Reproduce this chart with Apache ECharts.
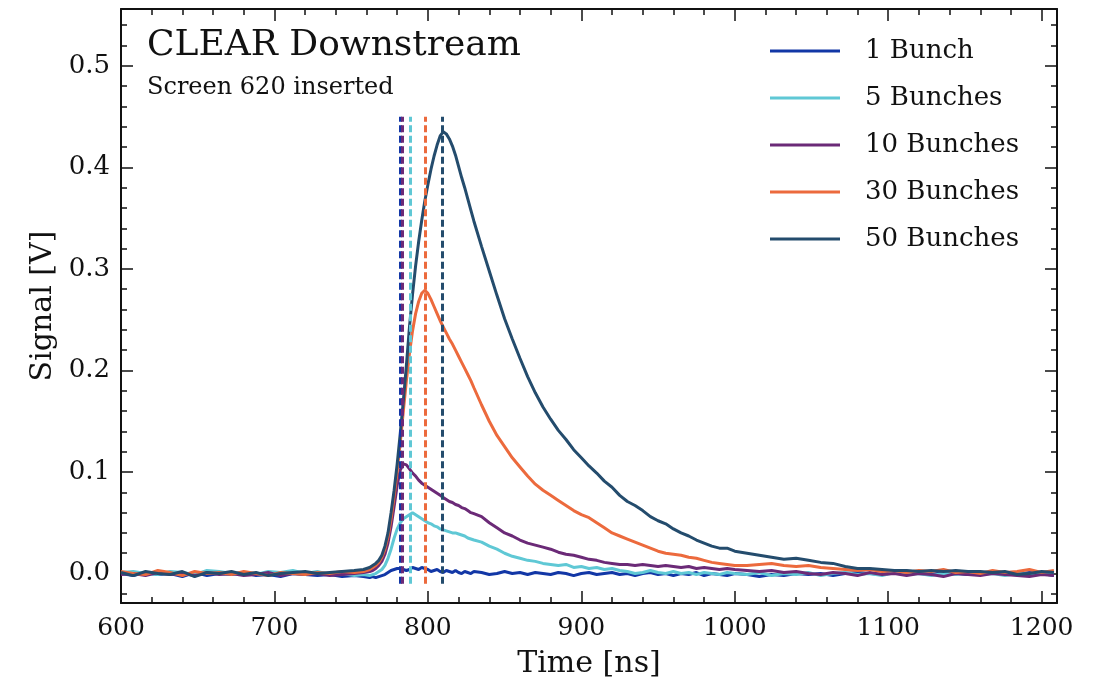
<!DOCTYPE html>
<html>
<head>
<meta charset="UTF-8">
<title>CLEAR Downstream</title>
<script src="https://cdn.jsdelivr.net/npm/echarts@6/dist/echarts.min.js"></script>
<style>html,body{margin:0;padding:0;background:#fff;} #main{width:1097px;height:690px;}</style>
</head>
<body>
<div id="main"></div>
<script>
// sample times [ns], shared by every trace
var time = [600,608,616,624,632,640,648,656,664,672,680,688,696,704,712,720,728,736,744,752,758,
    762,764,766,768,770,772,774,776,778,780,782,784,786,788,790,792,794,796,798,800,802,804,806,808,810,812,814,816,818,820,822,824,826,828,830,
    835,840,845,850,855,860,865,870,875,880,885,890,895,900,905,910,915,920,925,930,935,940,945,950,955,960,965,970,975,980,985,990,995,1000,
    1008,1016,1024,1032,1040,1048,1056,1064,1072,1080,1088,1096,1104,1112,1120,1128,1136,1144,1152,1160,1168,1176,1184,1192,1200,1208];

// signal [V]
var bunch1 = [0.000,-0.002,0.001,-0.001,0.000,-0.003,0.001,-0.002,0.000,-0.001,0.001,-0.002,-0.001,-0.003,0.000,-0.001,-0.002,-0.001,-0.003,-0.002,-0.003,
    -0.004,-0.003,-0.004,-0.003,-0.002,-0.001,0.001,0.003,0.004,0.005,0.005,0.004,0.003,0.004,0.006,0.005,0.004,0.006,0.005,0.004,0.002,0.003,0.004,0.002,0.001,0.003,0.002,0.001,0.003,0.001,0.000,0.002,0.001,0.000,0.002,
    0.001,-0.001,0.000,0.002,0.000,0.001,-0.001,0.001,0.000,-0.001,0.001,0.000,-0.002,0.000,0.001,-0.001,0.000,0.001,-0.001,0.000,-0.002,0.000,0.001,-0.001,0.000,-0.002,0.000,-0.001,0.001,-0.002,0.000,-0.001,-0.002,0.000,
    -0.001,-0.003,-0.001,-0.002,0.000,-0.001,0.000,-0.002,0.000,0.001,0.000,-0.001,0.001,0.000,0.000,-0.001,0.001,0.000,-0.001,0.000,0.001,0.000,-0.001,0.001,0.000,-0.002];
var bunch5 = [0.001,0.002,0.000,-0.001,0.002,0.001,-0.001,0.003,0.002,0.000,0.001,-0.001,0.002,0.001,0.003,0.000,0.002,-0.001,0.000,-0.002,-0.001,
    -0.002,-0.001,0.000,0.002,0.004,0.008,0.015,0.024,0.035,0.044,0.050,0.054,0.056,0.058,0.060,0.058,0.056,0.054,0.052,0.050,0.049,0.047,0.046,0.044,0.043,0.042,0.041,0.040,0.040,0.039,0.038,0.037,0.035,0.034,0.033,
    0.031,0.027,0.024,0.020,0.017,0.015,0.013,0.012,0.010,0.009,0.008,0.009,0.006,0.007,0.005,0.006,0.004,0.005,0.003,0.002,0.000,0.001,0.003,0.001,0.000,0.002,0.000,0.001,-0.001,0.001,0.000,-0.001,0.001,0.000,
    -0.001,0.001,-0.002,0.000,-0.001,0.001,-0.002,0.000,0.001,-0.001,0.000,-0.002,0.001,-0.001,0.000,-0.002,0.000,-0.001,0.001,-0.001,0.000,-0.002,0.000,-0.001,0.000,-0.001];
var bunch10 = [-0.001,0.000,-0.002,0.001,-0.001,0.000,-0.002,0.001,-0.001,0.000,-0.002,-0.001,0.001,-0.002,0.000,-0.001,0.000,-0.002,-0.001,0.000,0.001,
    0.002,0.003,0.005,0.008,0.012,0.019,0.030,0.046,0.066,0.087,0.102,0.108,0.107,0.103,0.099,0.096,0.092,0.089,0.087,0.085,0.083,0.081,0.079,0.077,0.075,0.073,0.071,0.070,0.068,0.067,0.065,0.064,0.062,0.060,0.059,
    0.056,0.050,0.045,0.040,0.037,0.033,0.030,0.028,0.026,0.024,0.021,0.019,0.018,0.016,0.014,0.013,0.011,0.010,0.009,0.009,0.008,0.009,0.008,0.007,0.008,0.007,0.006,0.007,0.005,0.006,0.005,0.004,0.005,0.004,
    0.003,0.002,0.003,0.001,0.002,0.000,-0.001,0.001,0.000,-0.002,0.001,-0.001,0.000,-0.002,0.000,-0.001,-0.003,0.000,-0.001,-0.002,0.000,-0.001,-0.002,-0.003,-0.001,-0.002];
var bunch30 = [0.002,0.000,-0.001,0.003,0.001,-0.002,0.002,0.000,0.001,-0.001,0.002,0.000,-0.002,0.001,0.000,-0.001,0.001,0.000,0.002,0.001,0.002,
    0.004,0.006,0.008,0.011,0.016,0.024,0.036,0.054,0.076,0.101,0.129,0.160,0.190,0.217,0.239,0.256,0.268,0.276,0.279,0.276,0.270,0.263,0.256,0.249,0.243,0.237,0.231,0.226,0.220,0.214,0.208,0.202,0.196,0.190,0.183,
    0.166,0.150,0.136,0.125,0.114,0.105,0.096,0.088,0.082,0.077,0.072,0.067,0.062,0.058,0.055,0.050,0.045,0.040,0.037,0.034,0.031,0.028,0.025,0.022,0.020,0.019,0.018,0.016,0.015,0.013,0.011,0.010,0.009,0.008,
    0.008,0.009,0.010,0.008,0.007,0.008,0.006,0.005,0.004,0.003,0.004,0.002,0.003,0.001,0.003,0.002,0.004,0.001,0.002,0.000,0.003,0.001,0.002,0.004,0.001,0.003];
var bunch50 = [0.001,-0.002,0.002,0.000,-0.001,0.002,-0.003,0.001,0.000,0.002,-0.001,0.001,-0.002,0.000,0.001,0.002,0.000,0.001,0.002,0.003,0.004,
    0.006,0.008,0.010,0.013,0.018,0.027,0.040,0.060,0.082,0.108,0.138,0.170,0.205,0.243,0.275,0.303,0.327,0.348,0.367,0.383,0.398,0.411,0.422,0.431,0.435,0.433,0.428,0.421,0.412,0.401,0.390,0.380,0.369,0.358,0.347,
    0.322,0.298,0.274,0.251,0.231,0.212,0.194,0.178,0.164,0.152,0.141,0.132,0.122,0.114,0.106,0.099,0.091,0.085,0.077,0.071,0.067,0.062,0.056,0.052,0.049,0.044,0.040,0.037,0.033,0.030,0.027,0.025,0.025,0.022,
    0.020,0.018,0.016,0.014,0.015,0.013,0.011,0.010,0.007,0.005,0.005,0.004,0.003,0.003,0.002,0.003,0.002,0.003,0.002,0.002,0.001,0.002,-0.001,0.000,0.002,0.001];

var names = ['1 Bunch', '5 Bunches', '10 Bunches', '30 Bunches', '50 Bunches'];
var traces = [bunch1, bunch5, bunch10, bunch30, bunch50];
var colors = ['#1237a6', '#5fc8d5', '#6b2a77', '#ec6a3d', '#244c6d'];
// time of the signal maximum, shown as dashed line [ns]
var peakTimes = [782, 788.5, 783.5, 798, 809.5];

var xMajor = [600, 700, 800, 900, 1000, 1100, 1200];
var xMinor = [620,640,660,680,720,740,760,780,820,840,860,880,920,940,960,980,1020,1040,1060,1080,1120,1140,1160,1180];
var yMajor = [0, 0.1, 0.2, 0.3, 0.4, 0.5];
var yMinor = [-0.02,0.02,0.04,0.06,0.08,0.12,0.14,0.16,0.18,0.22,0.24,0.26,0.28,0.32,0.34,0.36,0.38,0.42,0.44,0.46,0.48,0.52,0.54];

var FONT = "'DejaVu Serif', 'Liberation Serif', serif";
var INK = '#111';

function axis(pos, range, ticks, len, labels, line) {
    return {
        type: 'value', position: pos, min: range[0], max: range[1],
        axisLine: {show: line, onZero: false, lineStyle: {color: INK, width: 2}},
        axisTick: {show: true, inside: true, length: len, customValues: ticks, lineStyle: {color: INK, width: 1.5}},
        axisLabel: {show: labels, customValues: ticks, color: INK, fontFamily: FONT, fontSize: 25},
        splitLine: {show: false},
        minorTick: {show: false}
    };
}

var xr = [600, 1210], yr = [-0.029, 0.556];
var xAxes = [axis('bottom', xr, xMajor, 12, true, true), axis('top', xr, xMajor, 12, false, true),
             axis('bottom', xr, xMinor, 6, false, false), axis('top', xr, xMinor, 6, false, false)];
xAxes[0].axisLabel.margin = 13;
xAxes[0].axisLabel.formatter = function (v) { return String(v); };
xAxes[0].name = 'Time [ns]';
xAxes[0].nameLocation = 'middle';
xAxes[0].nameGap = 46;
xAxes[0].nameTextStyle = {color: INK, fontFamily: FONT, fontSize: 30};

var yAxes = [axis('left', yr, yMajor, 12, true, true), axis('right', yr, yMajor, 12, false, true),
             axis('left', yr, yMinor, 6, false, false), axis('right', yr, yMinor, 6, false, false)];
yAxes[0].axisLabel.margin = 11;
yAxes[0].axisLabel.fontSize = 26;
yAxes[0].axisLabel.formatter = function (v) { return v.toFixed(1); };
yAxes[0].name = 'Signal [V]';
yAxes[0].nameLocation = 'middle';
yAxes[0].nameGap = 63;
yAxes[0].nameTextStyle = {color: INK, fontFamily: FONT, fontSize: 30};

var series = [];
for (var i = 0; i < names.length; i++) {
    var pts = [];
    for (var j = 0; j < time.length; j++) pts.push([time[j], traces[i][j]]);
    series.push({
        name: names[i], type: 'line', data: pts,
        xAxisIndex: 0, yAxisIndex: 0,
        symbol: 'none', showSymbol: false,
        lineStyle: {color: colors[i], width: 3},
        itemStyle: {color: colors[i]},
        emphasis: {disabled: true},
        markLine: {
            silent: true, symbol: ['none', 'none'], label: {show: false},
            lineStyle: {color: colors[i], width: 3, type: [7, 3.5]},
            emphasis: {disabled: true},
            data: [[{coord: [peakTimes[i], -0.01]}, {coord: [peakTimes[i], 0.45]}]]
        }
    });
}

var chart = echarts.init(document.getElementById('main'));
chart.setOption({
    animation: false,
    backgroundColor: '#fff',
    grid: {left: 121, right: 40, top: 9, bottom: 87, containLabel: false, outerBoundsMode: 'none'},
    xAxis: xAxes,
    yAxis: yAxes,
    legend: {
        data: names, orient: 'vertical', left: 770, top: 36, padding: 0,
        icon: 'rect', itemWidth: 70, itemHeight: 3, itemGap: 17,
        textStyle: {color: INK, fontFamily: FONT, fontSize: 26, lineHeight: 30, padding: [0, 0, 0, 20]}
    },
    graphic: [
        {type: 'text', x: 147, y: 46, style: {text: 'CLEAR Downstream', fill: INK, fontFamily: FONT, fontSize: 36, verticalAlign: 'middle'}},
        {type: 'text', x: 147, y: 88, style: {text: 'Screen 620 inserted', fill: INK, fontFamily: FONT, fontSize: 24, verticalAlign: 'middle'}}
    ],
    series: series
});
</script>
</body>
</html>
